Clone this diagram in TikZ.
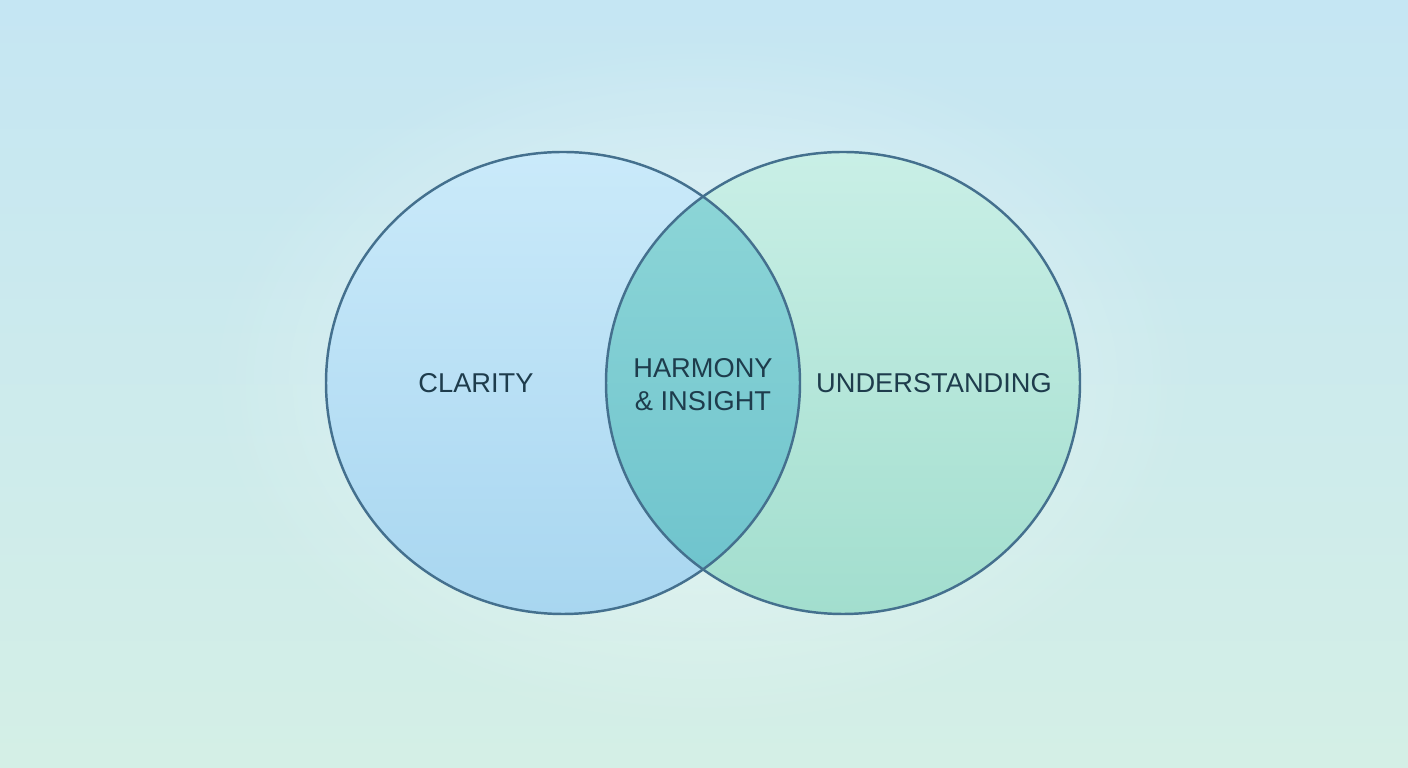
\documentclass[tikz,border=0pt]{standalone}
\usepackage{fontspec}
\setmainfont{Liberation Sans}
\usetikzlibrary{fadings}

\definecolor{bgtop}{HTML}{C5E6F3}
\definecolor{bgbot}{HTML}{D4EFE6}
\definecolor{claritytop}{HTML}{CAEAFA}
\definecolor{claritybot}{HTML}{A8D6F0}
\definecolor{undertop}{HTML}{C9EFE6}
\definecolor{underbot}{HTML}{A2DECE}
\definecolor{harmonytop}{HTML}{8FD7D8}
\definecolor{harmonybot}{HTML}{6CC2CC}
\definecolor{rimblue}{HTML}{44708E}
\definecolor{labeltext}{HTML}{1E3C4C}

\tikzfading[name=fuzzyglow, inner color=transparent!0, outer color=transparent!100]

\tikzset{
  setrim/.style={draw=rimblue, line width=1.4pt},
  setlabel/.style={text=labeltext, font=\fontsize{15.5}{19}\selectfont, align=center},
}

\begin{document}
\begin{tikzpicture}
    % background
    \shade[top color=bgtop, bottom color=bgbot] (0,0) rectangle (28.16,15.36);
    \useasboundingbox (0,0) rectangle (28.16,15.36);
    \fill[white, opacity=0.55, path fading=fuzzyglow] (14.06,7.7) ellipse (10 and 7);

    % the two sets
    \shade[top color=claritytop, bottom color=claritybot] (11.26,7.7) ellipse (4.74 and 4.62);
    \shade[top color=undertop, bottom color=underbot] (16.86,7.7) ellipse (4.74 and 4.62);
    \begin{scope}
        \clip (11.26,7.7) ellipse (4.74 and 4.62);
        \shade[top color=harmonytop, bottom color=harmonybot] (16.86,7.7) ellipse (4.74 and 4.62);
    \end{scope}
    \draw[setrim] (11.26,7.7) ellipse (4.74 and 4.62);
    \draw[setrim] (16.86,7.7) ellipse (4.74 and 4.62);

    % labels
    \node[setlabel] (clarity) at (9.52,7.70) {CLARITY};
    \node[setlabel] (harmony) at (14.06,7.67) {HARMONY\\\& INSIGHT};
    \node[setlabel] (understanding) at (18.68,7.70) {UNDERSTANDING};
\end{tikzpicture}
\end{document}
